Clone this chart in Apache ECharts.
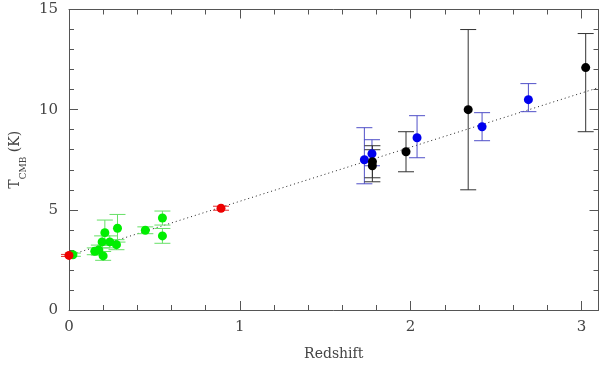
<!DOCTYPE html>
<html>
<head>
<meta charset="utf-8">
<script src="https://cdn.jsdelivr.net/npm/echarts@6/dist/echarts.min.js"></script>
<style>
  html, body { margin: 0; padding: 0; background: #fff; }
  #chart { width: 600px; height: 366px; }
</style>
</head>
<body>
<div id="chart"></div>
<script>
// SZ cluster points (green)
const greenZ = [0.023, 0.151, 0.175, 0.2, 0.21, 0.194, 0.239, 0.278, 0.284, 0.447, 0.547, 0.547]
const greenT = [2.76, 2.93, 2.99, 2.70, 3.86, 3.40, 3.40, 3.26, 4.08, 3.98, 4.59, 3.70]
const greenErr = [0.08, 0.17, 0.25, 0.22, 0.63, 0.3, 0.3, 0.25, 0.69, 0.17, 0.35, 0.37]

// CO excitation (blue)
const blueZ = [1.7293, 1.7738, 2.0377, 2.4184, 2.6896]
const blueT = [7.5, 7.8, 8.6, 9.15, 10.5]
const blueUp = [1.6, 0.7, 1.1, 0.7, 0.8]
const blueDown = [1.2, 0.6, 1.0, 0.7, 0.6]

// fine structure (black)
const blackZ = [1.7765, 1.776, 1.9731, 2.3371, 3.025]
const blackT = [7.4, 7.2, 7.9, 10.0, 12.1]
const blackUp = [0.8, 0.8, 1.0, 4.0, 1.7]
const blackDown = [0.8, 0.8, 1.0, 4.0, 3.2]

// red points
const redZ = [0, 0.89]
const redT = [2.725, 5.08]
const redErr = [0.05, 0.1]

// fit line endpoints
const fitZ = [0, 3.1]
const fitT = [2.725, 11.1]

const toPoints = (xs, ys) => xs.map((x, i) => [x, ys[i]])
const toBars = (xs, ys, up, down) => xs.map((x, i) => [x, ys[i] - down[i], ys[i] + up[i]])

const chart = echarts.init(document.getElementById('chart'))

// vertical error bar with caps
const errorBar = (data, color) => ({
  type: 'custom',
  data: data,
  silent: true,
  z: 2,
  renderItem: (params, api) => {
    const top = api.coord([api.value(0), api.value(2)])
    const bot = api.coord([api.value(0), api.value(1)])
    const half = 8
    const style = { stroke: color, lineWidth: 1 }
    return {
      type: 'group',
      children: [
        { type: 'line', shape: { x1: top[0], y1: top[1], x2: bot[0], y2: bot[1] }, style },
        { type: 'line', shape: { x1: top[0] - half, y1: top[1], x2: top[0] + half, y2: top[1] }, style },
        { type: 'line', shape: { x1: bot[0] - half, y1: bot[1], x2: bot[0] + half, y2: bot[1] }, style }
      ]
    }
  }
})

const dots = (data, color) => ({
  type: 'scatter',
  data: data,
  symbolSize: 9,
  z: 3,
  itemStyle: { color: color, opacity: 1 }
})

const axisColor = '#555'
const font = 'DejaVu Serif'

const baseX = {
  type: 'value',
  min: 0,
  max: 3.1,
  interval: 1,
  axisLine: { show: true, onZero: false, lineStyle: { color: axisColor, width: 1 } },
  axisTick: { show: true, inside: true, length: 9, lineStyle: { color: axisColor } },
  minorTick: { show: true, splitNumber: 5, length: 5, lineStyle: { color: axisColor } },
  splitLine: { show: false }
}
const baseY = {
  type: 'value',
  min: 0,
  max: 15,
  interval: 5,
  axisLine: { show: true, onZero: false, lineStyle: { color: axisColor, width: 1 } },
  axisTick: { show: true, inside: true, length: 9, lineStyle: { color: axisColor } },
  minorTick: { show: true, splitNumber: 5, length: 5, lineStyle: { color: axisColor } },
  splitLine: { show: false }
}

chart.setOption({
  animation: false,
  grid: { left: 67.5, right: 1.5, top: 9.5, bottom: 53 },
  xAxis: [
    {
      ...baseX,
      position: 'bottom',
      name: 'Redshift',
      nameLocation: 'middle',
      nameGap: 37,
      nameTextStyle: { fontFamily: font, fontSize: 14, color: '#444' },
      axisLabel: { margin: 10, fontFamily: font, fontSize: 15, color: '#444', showMaxLabel: false }
    },
    { ...baseX, position: 'top', axisLabel: { show: false } }
  ],
  yAxis: [
    {
      ...baseY,
      position: 'left',
      name: '{t|T}{s|CMB}{t| (K)}',
      nameLocation: 'middle',
      nameGap: 31,
      nameRotate: 90,
      nameTextStyle: {
        fontFamily: font,
        color: '#444',
        rich: {
          t: { fontFamily: font, fontSize: 14, color: '#444', lineHeight: 18, verticalAlign: 'middle' },
          s: { fontFamily: font, fontSize: 9, color: '#444', verticalAlign: 'bottom', lineHeight: 18, padding: [0, 0, -4, 0] }
        }
      },
      axisLabel: { margin: 11, fontFamily: font, fontSize: 15, color: '#444' }
    },
    { ...baseY, position: 'right', axisLabel: { show: false } }
  ],
  series: [
    {
      type: 'line',
      data: toPoints(fitZ, fitT),
      symbol: 'none',
      z: 1,
      lineStyle: { color: '#222', width: 1, type: [1, 3] }
    },
    errorBar(toBars(greenZ, greenT, greenErr, greenErr), '#66e066'),
    errorBar(toBars(redZ, redT, redErr, redErr), '#e03030'),
    errorBar(toBars(blueZ, blueT, blueUp, blueDown), '#5050c8'),
    errorBar(toBars(blackZ, blackT, blackUp, blackDown), '#333333'),
    dots(toPoints(greenZ, greenT), '#00ee00'),
    dots(toPoints(redZ, redT), '#ee0000'),
    dots(toPoints(blueZ, blueT), '#0000ee'),
    dots(toPoints(blackZ, blackT), '#000000')
  ]
})
</script>
</body>
</html>
